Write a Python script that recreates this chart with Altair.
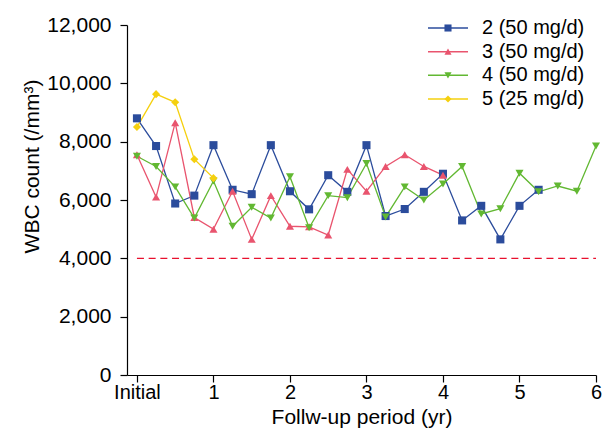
import altair as alt
import pandas as pd

# ---- data ----
quarters = [0, 0.25, 0.5, 0.75, 1, 1.25, 1.5, 1.75, 2, 2.25, 2.5, 2.75, 3,
            3.25, 3.5, 3.75, 4, 4.25, 4.5, 4.75, 5, 5.25, 5.5, 5.75, 6]

series_names = ["2 (50 mg/d)", "3 (50 mg/d)", "4 (50 mg/d)", "5 (25 mg/d)"]
series_colors = ["#2B4C9C", "#E9546E", "#62B832", "#F5D00F"]
series_shapes = ["square", "triangle-up", "triangle-down", "diamond"]

wbc_2 = [8800, 7850, 5880, 6150, 7880, 6350, 6200, 7880, 6300, 5680, 6850,
         6280, 7880, 5450, 5690, 6280, 6900, 5300, 5800, 4650, 5800, 6350]
wbc_3 = [7550, 6100, 8650, 5400, 5000, 6300, 4650, 6150, 5100, 5080, 4800,
         7050, 6300, 7150, 7550, 7150, 6850]
wbc_4 = [7500, 7150, 6450, 5380, 6650, 5100, 5750, 5380, 6800, 5050, 6150,
         6080, 7250, 5420, 6450, 6000, 6550, 7150, 5520, 5700, 6920, 6280,
         6480, 6300, 7850]
wbc_5 = [8500, 9630, 9350, 7400, 6750]

threshold = 4000
threshold_span = [0, 6]

x_ticks = [0, 1, 2, 3, 4, 5, 6]
y_ticks = [0, 2000, 4000, 6000, 8000, 10000, 12000]

# ---- build tables ----
rows = []
for name, vals in zip(series_names, [wbc_2, wbc_3, wbc_4, wbc_5]):
    for t, v in zip(quarters, vals):
        rows.append({"series": name, "year": t, "wbc": v})
df = pd.DataFrame(rows)
thr_df = pd.DataFrame({"x": [threshold_span[0]], "x2": [threshold_span[1]], "y": [threshold]})
leg_df = pd.DataFrame({"series": series_names, "row": list(range(len(series_names)))})

FONT = "Liberation Sans"

x_scale = alt.Scale(domain=[-0.13, 6], nice=False, zero=False)
x_enc = alt.X("year:Q", scale=x_scale,
              axis=alt.Axis(values=x_ticks, title="Follw-up period (yr)",
                            labelExpr="datum.value == 0 ? 'Initial' : format(datum.value, 'd')",
                            grid=False, tickSize=7, labelPadding=0, labelFontSize=20,
                            titleY=48, titleBaseline="alphabetic",
                            labelFlush=False))
y_scale = alt.Scale(domain=[0, 12000], nice=False)
y_enc = alt.Y("wbc:Q", scale=y_scale,
              axis=alt.Axis(values=y_ticks, format=",d", title="WBC count (/mm³)",
                            grid=False, tickSize=7, labelPadding=9,
                            titleX=-89, titleY=141, titleBaseline="alphabetic"))

color_scale = alt.Scale(domain=series_names, range=series_colors)
shape_scale = alt.Scale(domain=series_names, range=series_shapes)

lines = alt.Chart(df).mark_line(strokeWidth=1.3).encode(
    x=x_enc, y=y_enc,
    color=alt.Color("series:N", scale=color_scale, legend=None),
    detail="series:N",
)

points = alt.Chart(df).mark_point(filled=True, opacity=1, size=65).encode(
    x=x_enc, y=y_enc,
    color=alt.Color("series:N", scale=color_scale, legend=None),
    shape=alt.Shape("series:N", scale=shape_scale, legend=None),
)

rule = alt.Chart(thr_df).mark_rule(color="#E8102E", strokeDash=[7, 4.7], strokeWidth=1.3).encode(
    x=alt.X("x:Q", scale=x_scale), x2="x2:Q",
    y=alt.Y("y:Q", scale=y_scale),
)

main = alt.layer(rule, lines, points)

# ---- legend (top right, inside plot) ----
leg_y = alt.Y("row:Q", scale=alt.Scale(domain=[0, 3], range=[3, 74], nice=False, zero=False),
              axis=None)

leg_lines = alt.Chart(leg_df).mark_rule(strokeWidth=1.5).encode(
    x=alt.value(301), x2=alt.value(341), y=leg_y,
    color=alt.Color("series:N", scale=color_scale, legend=None),
)
leg_pts = alt.Chart(leg_df).mark_point(filled=True, opacity=1, size=50).encode(
    x=alt.value(321), y=leg_y,
    color=alt.Color("series:N", scale=color_scale, legend=None),
    shape=alt.Shape("series:N", scale=shape_scale, legend=None),
)
leg_text = alt.Chart(leg_df).mark_text(align="left", baseline="middle", fontSize=20,
                                        font=FONT, color="#000").encode(
    x=alt.value(355), y=leg_y, text="series:N",
)
legend = alt.layer(leg_lines, leg_pts, leg_text)

chart = alt.layer(main, legend).resolve_scale(y="independent").properties(
    width=469, height=350,
    autosize=alt.AutoSizeParams(type="none"),
    padding={"left": 119, "top": 17, "right": 6, "bottom": 53},
).configure_view(stroke=None).configure_axis(
    labelFont=FONT, titleFont=FONT, labelFontSize=21, titleFontSize=21,
    labelColor="#000", titleColor="#000", titleFontWeight="normal",
    domainColor="#000", tickColor="#000", domainWidth=1.2, tickWidth=1.2,
)

chart.save("out.html", embed_options={"renderer": "svg", "actions": False})
